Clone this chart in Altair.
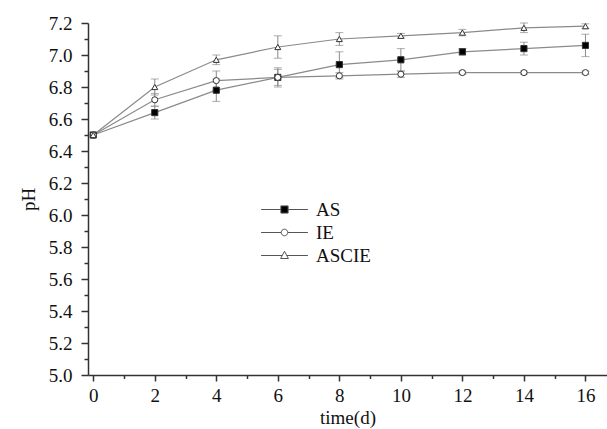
import altair as alt
import pandas as pd

days = [0, 2, 4, 6, 8, 10, 12, 14, 16]
series_names = ["AS", "IE", "ASCIE"]
as_ph = [6.50, 6.64, 6.78, 6.86, 6.94, 6.97, 7.02, 7.04, 7.06]
as_err = [0.0, 0.04, 0.07, 0.05, 0.08, 0.07, 0.02, 0.04, 0.07]
ie_ph = [6.50, 6.72, 6.84, 6.86, 6.87, 6.88, 6.89, 6.89, 6.89]
ie_err = [0.0, 0.04, 0.06, 0.06, 0.02, 0.02, 0.01, 0.01, 0.01]
ascie_ph = [6.50, 6.80, 6.97, 7.05, 7.10, 7.12, 7.14, 7.17, 7.18]
ascie_err = [0.0, 0.05, 0.03, 0.07, 0.04, 0.015, 0.02, 0.03, 0.015]
x_ticks = list(range(0, 17))
y_ticks = [round(5.0 + 0.1 * i, 1) for i in range(23)]

rows = []
for name, vals, errs in [("AS", as_ph, as_err), ("IE", ie_ph, ie_err), ("ASCIE", ascie_ph, ascie_err)]:
    for d, v, e in zip(days, vals, errs):
        rows.append({"series": name, "day": d, "pH": v, "lo": v - e, "hi": v + e, "err": e})
df = pd.DataFrame(rows)

FONT = "Liberation Serif"
LINE = "#8a8a8a"

x_scale = alt.Scale(domain=[-0.17, 16.7], nice=False, zero=False)
y_scale = alt.Scale(domain=[5.0, 7.2], nice=False, zero=False)
x_axis = alt.Axis(
    values=x_ticks,
    labelExpr="datum.value % 2 == 0 ? datum.label : ''",
    tickSize={"condition": {"test": "datum.value % 2 == 0", "value": 6}, "value": 3.5},
    labelPadding=5,
    titlePadding=3,
    labelOverlap=False,
    labelFlush=False,
    grid=False,
)
y_axis = alt.Axis(
    values=y_ticks,
    labelExpr="abs(round(datum.value * 10)) % 2 == 0 ? format(datum.value, '.1f') : ''",
    tickSize={"condition": {"test": "abs(round(datum.value * 10)) % 2 == 0", "value": 7}, "value": 4},
    labelPadding=9,
    titlePadding=10,
    labelOverlap=False,
    labelFlush=False,
    grid=False,
)


def X(field):
    return alt.X(field, scale=x_scale, axis=x_axis, title="time(d)")


def Y(field):
    return alt.Y(field, scale=y_scale, axis=y_axis, title="pH")


base = alt.Chart(df)
err_df = base.transform_filter("datum.err > 0")

lines = base.mark_line(color=LINE, strokeWidth=1.2).encode(
    x=X("day:Q"), y=Y("pH:Q"), detail="series:N"
)
rules = err_df.mark_rule(color=LINE, strokeWidth=1).encode(
    x=X("day:Q"), y=Y("lo:Q"), y2="hi:Q", detail="series:N"
)
caps_lo = err_df.mark_tick(orient="horizontal", size=8, thickness=1, color=LINE).encode(
    x=X("day:Q"), y=Y("lo:Q")
)
caps_hi = err_df.mark_tick(orient="horizontal", size=8, thickness=1, color=LINE).encode(
    x=X("day:Q"), y=Y("hi:Q")
)
points = base.mark_point(filled=True, stroke="#333", strokeWidth=1, opacity=1).encode(
    x=X("day:Q"),
    y=Y("pH:Q"),
    shape=alt.Shape("series:N", scale=alt.Scale(domain=series_names, range=["square", "circle", "triangle-up"]), legend=None),
    fill=alt.Fill("series:N", scale=alt.Scale(domain=series_names, range=["black", "white", "white"]), legend=None),
    size=alt.Size("series:N", scale=alt.Scale(domain=series_names, range=[38, 36, 50]), legend=None),
)

leg_paths = [
    "M-3.9,0H-0.6M0.6,0H3.9M-0.6,-0.6H0.6V0.6H-0.6Z",
    "M-3.9,0H-0.55M0.55,0H3.9M-0.55,0A0.55,0.55 0 1,0 0.55,0A0.55,0.55 0 1,0 -0.55,0Z",
    "M-3.9,0H-0.38M0.38,0H3.9M0,-0.7L0.65,0.5L-0.65,0.5Z",
]
legend_cfg = alt.Legend(
    title=None,
    orient="none",
    legendX=187,
    legendY=177,
    symbolSize=144,
    symbolStrokeWidth=1,
    labelFont=FONT,
    labelFontSize=19,
    labelColor="#111",
    labelOffset=22,
    rowPadding=3,
    padding=0,
)
legend_layer = base.transform_filter("false").mark_point(filled=True, stroke="#555", strokeWidth=1, opacity=1).encode(
    x=X("day:Q"),
    y=Y("pH:Q"),
    shape=alt.Shape("series:N", scale=alt.Scale(domain=series_names, range=leg_paths), legend=legend_cfg),
    fill=alt.Fill("series:N", scale=alt.Scale(domain=series_names, range=["black", "white", "white"]), legend=legend_cfg),
)

chart = (
    alt.layer(lines, rules, caps_lo, caps_hi, points, legend_layer)
    .resolve_scale(shape="independent", fill="independent", size="independent")
    .properties(
        width=519,
        height=352,
        autosize=alt.AutoSizeParams(type="none"),
        padding={"left": 88, "top": 23, "right": 0, "bottom": 54},
        background="white",
    )
    .configure_view(stroke=None)
    .configure_axis(
        labelFont=FONT,
        titleFont=FONT,
        labelFontSize=19,
        titleFontSize=19,
        titleFontWeight="normal",
        labelColor="#111",
        titleColor="#111",
        domainColor="#333",
        domainWidth=1.5,
        tickColor="#333",
        tickWidth=1.5,
    )
)

chart.save("out.html", embed_options={"renderer": "svg", "actions": False})
